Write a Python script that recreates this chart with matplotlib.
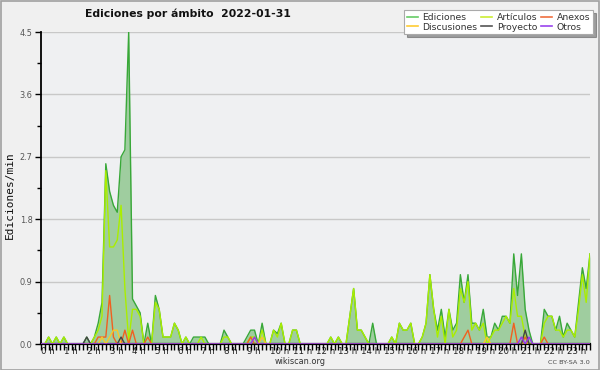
import numpy as np
import matplotlib
matplotlib.use("Agg")
import matplotlib.pyplot as plt
from matplotlib import font_manager as fm
from matplotlib.lines import Line2D
from matplotlib.patches import Rectangle
from matplotlib.transforms import ScaledTranslation

# ediciones por minuto, una muestra cada 10 min (0 h ... 24 h)
ediciones = [
    0, 0, 0.1, 0, 0.1, 0, 0.1, 0, 0, 0, 0, 0,
    0.1, 0, 0.1, 0.3, 0.6, 2.6, 2.2, 2.0, 1.9, 2.7, 2.8, 4.5,
    0.65, 0.55, 0.45, 0, 0.3, 0, 0.7, 0.5, 0.1, 0.1, 0.1, 0.3,
    0.2, 0, 0.1, 0, 0.1, 0.1, 0.1, 0.1, 0, 0, 0, 0,
    0.2, 0.1, 0, 0, 0, 0, 0.1, 0.2, 0.2, 0, 0.3, 0,
    0, 0.2, 0.15, 0.3, 0, 0, 0.2, 0.2, 0, 0, 0, 0,
    0, 0, 0, 0, 0.1, 0, 0.1, 0, 0, 0.4, 0.8, 0.2,
    0.2, 0.1, 0, 0.3, 0, 0, 0, 0, 0.1, 0, 0.3, 0.2,
    0.2, 0.3, 0, 0, 0.1, 0.3, 1.0, 0.5, 0.2, 0.5, 0.1, 0.5,
    0.2, 0.3, 1.0, 0.6, 1.0, 0.3, 0.3, 0.2, 0.5, 0.1, 0.1, 0.3,
    0.2, 0.4, 0.4, 0.3, 1.3, 0.7, 1.3, 0.5, 0.2, 0, 0, 0,
    0.5, 0.4, 0.4, 0.2, 0.4, 0.1, 0.3, 0.2, 0.1, 0.6, 1.1, 0.8,
    1.3,
]
articulos = [
    0, 0, 0.1, 0, 0.1, 0, 0.1, 0, 0, 0, 0, 0,
    0, 0, 0.1, 0.2, 0.4, 2.5, 1.4, 1.4, 1.5, 2.0, 0.8, 0.05,
    0.5, 0.5, 0.4, 0, 0, 0, 0.6, 0.5, 0.1, 0.1, 0.1, 0.3,
    0.2, 0, 0.1, 0, 0, 0, 0.1, 0, 0, 0, 0, 0,
    0.1, 0.1, 0, 0, 0, 0, 0, 0.1, 0.1, 0, 0.2, 0,
    0, 0.2, 0.1, 0.3, 0, 0, 0.2, 0.2, 0, 0, 0, 0,
    0, 0, 0, 0, 0.1, 0, 0.1, 0, 0, 0.4, 0.8, 0.2,
    0.2, 0.1, 0, 0, 0, 0, 0, 0, 0.1, 0, 0.3, 0.2,
    0.2, 0.3, 0, 0, 0.1, 0.3, 1.0, 0.5, 0.1, 0.4, 0, 0.5,
    0.1, 0.2, 0.8, 0.6, 0.9, 0.2, 0.3, 0.2, 0.3, 0, 0.1, 0.2,
    0.2, 0.3, 0.4, 0.3, 0.8, 0.4, 0.4, 0.1, 0, 0, 0, 0,
    0.3, 0.4, 0.4, 0.2, 0.2, 0.1, 0.2, 0.2, 0.1, 0.5, 1.0, 0.6,
    1.3,
]
anexos = [
    0, 0, 0, 0, 0, 0, 0, 0, 0, 0, 0, 0,
    0, 0, 0, 0.1, 0.1, 0.1, 0.7, 0.1, 0, 0, 0.2, 0,
    0.2, 0, 0, 0, 0.1, 0, 0, 0, 0, 0, 0, 0,
    0, 0, 0, 0, 0, 0, 0, 0, 0, 0, 0, 0,
    0, 0, 0, 0, 0, 0, 0, 0.1, 0, 0, 0, 0,
    0, 0, 0, 0, 0, 0, 0, 0, 0, 0, 0, 0,
    0, 0, 0, 0, 0, 0, 0, 0, 0, 0, 0, 0,
    0, 0, 0, 0, 0, 0, 0, 0, 0, 0, 0, 0,
    0, 0, 0, 0, 0, 0, 0, 0, 0, 0, 0, 0,
    0, 0, 0, 0.1, 0.2, 0, 0, 0, 0, 0, 0, 0,
    0, 0, 0, 0, 0.3, 0, 0, 0.1, 0, 0, 0, 0,
    0.1, 0, 0, 0, 0, 0, 0, 0, 0, 0, 0, 0,
    0,
]
discusiones = [
    0, 0, 0, 0, 0, 0, 0, 0, 0, 0, 0, 0,
    0, 0, 0, 0, 0.1, 0, 0.1, 0.2, 0.2, 0, 0, 0,
    0, 0, 0, 0, 0, 0, 0, 0, 0, 0, 0, 0,
    0, 0, 0, 0, 0, 0, 0, 0, 0, 0, 0, 0,
    0, 0, 0, 0, 0, 0, 0, 0, 0, 0, 0.1, 0,
    0, 0, 0, 0, 0, 0, 0, 0, 0, 0, 0, 0,
    0, 0, 0, 0, 0, 0, 0, 0, 0, 0, 0, 0,
    0, 0, 0, 0, 0, 0, 0, 0, 0, 0, 0, 0,
    0, 0, 0, 0, 0, 0, 0, 0, 0, 0, 0, 0,
    0, 0, 0, 0, 0, 0, 0, 0, 0, 0.1, 0, 0,
    0, 0, 0, 0, 0, 0, 0, 0, 0, 0, 0, 0,
    0, 0, 0, 0, 0, 0, 0, 0, 0, 0, 0, 0,
    0,
]
proyecto = [
    0, 0, 0, 0, 0, 0, 0, 0, 0, 0, 0, 0,
    0.1, 0, 0, 0, 0, 0, 0, 0, 0, 0.1, 0, 0,
    0, 0, 0, 0, 0, 0, 0, 0, 0, 0, 0, 0,
    0, 0, 0, 0, 0, 0, 0, 0, 0, 0, 0, 0,
    0, 0, 0, 0, 0, 0, 0, 0, 0, 0, 0, 0,
    0, 0, 0, 0, 0, 0, 0, 0, 0, 0, 0, 0,
    0, 0, 0, 0, 0, 0, 0, 0, 0, 0, 0, 0,
    0, 0, 0, 0, 0, 0, 0, 0, 0, 0, 0, 0,
    0, 0, 0, 0, 0, 0, 0, 0, 0, 0, 0, 0,
    0, 0, 0, 0, 0, 0, 0, 0, 0, 0, 0, 0,
    0, 0, 0, 0, 0, 0, 0, 0.2, 0, 0, 0, 0,
    0, 0, 0, 0, 0, 0, 0, 0, 0, 0, 0, 0,
    0,
]
otros = [
    0, 0, 0, 0, 0, 0, 0, 0, 0, 0, 0, 0,
    0, 0, 0, 0, 0, 0, 0, 0, 0, 0, 0, 0,
    0, 0, 0, 0, 0, 0, 0, 0, 0, 0, 0, 0,
    0, 0, 0, 0, 0, 0, 0, 0, 0, 0, 0, 0,
    0, 0, 0, 0, 0, 0, 0, 0, 0.1, 0, 0, 0,
    0, 0, 0, 0, 0, 0, 0, 0, 0, 0, 0, 0,
    0, 0, 0, 0, 0, 0, 0, 0, 0, 0, 0, 0,
    0, 0, 0, 0, 0, 0, 0, 0, 0, 0, 0, 0,
    0, 0, 0, 0, 0, 0, 0, 0, 0, 0, 0, 0,
    0, 0, 0, 0, 0, 0, 0, 0, 0, 0, 0, 0,
    0, 0, 0, 0, 0, 0, 0.1, 0, 0.1, 0, 0, 0,
    0, 0, 0, 0, 0, 0, 0, 0, 0, 0, 0, 0,
    0,
]
horas = list(range(24))
yticks = [0.0, 0.9, 1.8, 2.7, 3.6, 4.5]

t = np.arange(len(ediciones)) / 6.0

names = {f.name for f in fm.fontManager.ttflist}
if "Liberation Sans Narrow" in names:
    FAM, k = ["Liberation Sans Narrow", "DejaVu Sans"], 1.0
else:
    FAM, k = ["DejaVu Sans"], 0.78

fig = plt.figure(figsize=(6, 3.7), dpi=100, facecolor="#f0f0f0")
ax = fig.add_axes([41 / 600, 1 - 344 / 370, 549 / 600, 312 / 370])
ax.set_facecolor("#eff0f2")

ax.fill_between(t, ediciones, 0, color="#9fcd9f", lw=0, zorder=2)
ax.plot(t, ediciones, color="#38a838", lw=1.0, zorder=3)
ax.plot(t, articulos, color="#aaee00", lw=1.0, zorder=4)
ax.plot(t, anexos, color="#f06020", lw=1.0, zorder=5)
ax.plot(t, discusiones, color="#f8c828", lw=1.0, zorder=5)
ax.plot(t, proyecto, color="#444444", lw=1.0, zorder=6)
ax.plot(t, otros, color="#9933ee", lw=1.0, zorder=6)

ax.set_xlim(0, 24)
ax.set_ylim(0, 4.5)
ax.set_yticks(yticks)
ax.set_yticks(np.arange(0.45, 4.5, 0.9), minor=True)
ax.set_yticklabels([f"{v:.1f}" for v in yticks])
ax.yaxis.grid(True, color="#c8c8c8", lw=1)
ax.set_axisbelow(True)

ax.set_xticks(horas)
ax.set_xticks(np.arange(0, 24.01, 1 / 6), minor=True)
ax.set_xticklabels([f"{h} h" for h in horas], ha="left")
for h, lab in zip(horas, ax.get_xticklabels()):
    dx = -2.5 if h < 10 else -5.0
    lab.set_transform(lab.get_transform() + ScaledTranslation(dx / 100, 0, fig.dpi_scale_trans))

for s in ("top", "right"):
    ax.spines[s].set_visible(False)
ax.spines["left"].set_linewidth(1.3)
ax.spines["bottom"].set_linewidth(1.6)
ax.tick_params(axis="both", which="both", direction="out", color="black", width=1)
ax.tick_params(axis="x", which="both", length=4, pad=-1.8, labelsize=8 * k, labelcolor="#222222")
ax.tick_params(axis="y", which="major", length=4, pad=2, labelsize=7.5 * k, labelcolor="#555555")
ax.tick_params(axis="y", which="minor", length=3)
for lab in ax.get_xticklabels() + ax.get_yticklabels():
    lab.set_family(FAM)

fig.text(10 / 600, 1 - 195 / 370, "Ediciones/min", family="DejaVu Sans Mono", fontsize=8,
         rotation=90, ha="center", va="center", color="#111111")

fig.text(85 / 600, 1 - 14 / 370, "Ediciones por ámbito  2022-01-31", family=FAM,
         fontsize=10 * k, fontweight="bold", va="center", ha="left", color="#111111")
fig.text(300 / 600, 1 - 362 / 370, "wikiscan.org", family=FAM,
         fontsize=7.5 * k, ha="center", va="center", color="#333333")
fig.text(590 / 600, 1 - 362 / 370, "CC BY-SA 3.0", family=FAM,
         fontsize=6 * k, ha="right", va="center", color="#444444")

handles = [
    Line2D([], [], color="#66cc66", lw=1.2),
    Line2D([], [], color="#ffcc33", lw=1.2),
    Line2D([], [], color="#ccee33", lw=1.2),
    Line2D([], [], color="#555555", lw=1.2),
    Line2D([], [], color="#f07040", lw=1.2),
    Line2D([], [], color="#9944ee", lw=1.2),
]
labels = ["Ediciones", "Discusiones", "Artículos", "Proyecto", "Anexos", "Otros"]
leg = fig.legend(handles, labels, ncol=3, loc="upper left",
                 bbox_to_anchor=(404 / 600, 1 - 10 / 370), bbox_transform=fig.transFigure,
                 frameon=True, fancybox=False, shadow=True, borderaxespad=0,
                 prop=fm.FontProperties(family=FAM, size=8.5 * k),
                 handlelength=1.2, handletextpad=0.5, columnspacing=0.4,
                 labelspacing=0.1, borderpad=0.3)
leg.get_frame().set_edgecolor("#aaaaaa")
leg.get_frame().set_linewidth(0.8)
for txt in leg.get_texts():
    txt.set_color("#333333")

fig.patches.append(Rectangle((0.5 / 600, 0.5 / 370), 598.5 / 600, 368.5 / 370,
                             transform=fig.transFigure, fill=False,
                             edgecolor="#a0a0a0", lw=1.2))

fig.savefig("out.png", dpi=100, facecolor=fig.get_facecolor())
